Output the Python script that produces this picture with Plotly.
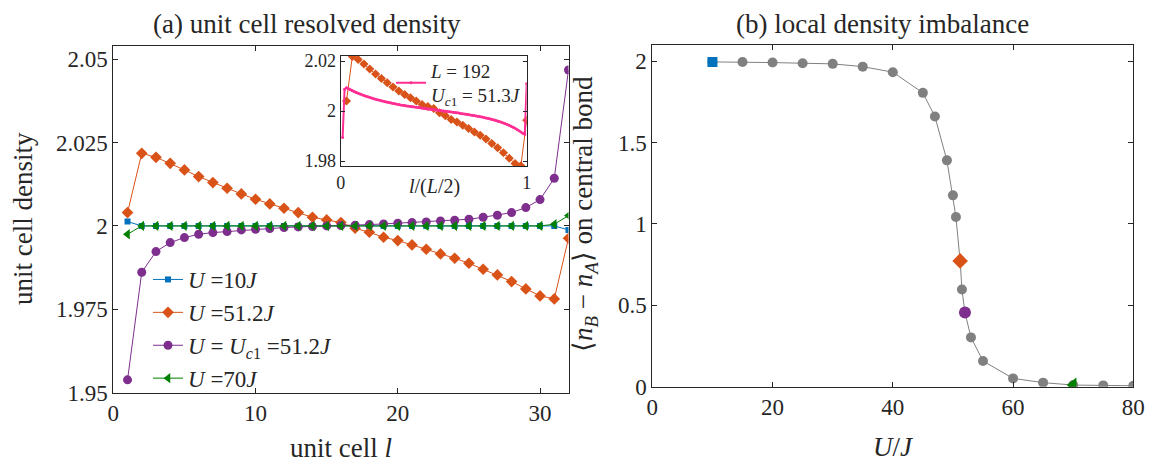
import plotly.graph_objects as go

# ---------------- data ----------------
cells = list(range(1, 33))  # unit cell index l, L = 64 chain (32 cells)

dens_U10 = [2.0013] + [2.0000] * 30 + [1.9988]
dens_U512 = [2.0040, 2.0218, 2.0206, 2.0188, 2.0168, 2.0148, 2.0130, 2.0113,
             2.0096, 2.0080, 2.0066, 2.0053, 2.0040, 2.0026, 2.0018, 2.0010,
             1.9993, 1.9981, 1.9966, 1.9956, 1.9943, 1.9930, 1.9916, 1.9903,
             1.9888, 1.9870, 1.9853, 1.9833, 1.9811, 1.9790, 1.9781, 1.9963]
dens_Uc1 = [1.9538, 1.9861, 1.9923, 1.9950, 1.9965, 1.9975, 1.9980, 1.9983,
            1.9988, 1.9990, 1.9992, 1.9995, 1.9997, 1.9998, 2.0000, 2.0001,
            2.0002, 2.0004, 2.0006, 2.0008, 2.0010, 2.0012, 2.0015, 2.0017,
            2.0020, 2.0026, 2.0032, 2.0040, 2.0055, 2.0079, 2.0143, 2.0468]
dens_U70 = [1.9975] + [2.0000] * 29 + [2.0005, 2.0031]

# L = 192 chain (96 cells) at U_c1 = 51.3 J
dens_L192 = [1.9894, 2.0087, 2.0093, 2.0089, 2.0085, 2.0081, 2.0077, 2.0074,
             2.0071, 2.0068, 2.0065, 2.0062, 2.0059, 2.0057, 2.0054, 2.0052,
             2.0049, 2.0047, 2.0045, 2.0043, 2.0041, 2.0039, 2.0037, 2.0035,
             2.0034, 2.0032, 2.0030, 2.0029, 2.0027, 2.0026, 2.0024, 2.0023,
             2.0022, 2.0020, 2.0019, 2.0018, 2.0017, 2.0016, 2.0015, 2.0014,
             2.0013, 2.0011, 2.0010, 2.0009, 2.0008, 2.0007, 2.0006, 2.0005,
             2.0004, 2.0003, 2.0002, 2.0001, 2.0000, 1.9999, 1.9998, 1.9997,
             1.9996, 1.9995, 1.9994, 1.9993, 1.9992, 1.9990, 1.9989, 1.9988,
             1.9987, 1.9986, 1.9984, 1.9983, 1.9982, 1.9980, 1.9979, 1.9977,
             1.9976, 1.9974, 1.9972, 1.9971, 1.9969, 1.9967, 1.9965, 1.9963,
             1.9960, 1.9958, 1.9955, 1.9952, 1.9949, 1.9946, 1.9943, 1.9939,
             1.9935, 1.9931, 1.9926, 1.9921, 1.9916, 1.9911, 1.9907, 2.0110]
cells_L192 = list(range(1, 97))

# central-bond imbalance versus U/J
U_vals = [10, 15, 20, 25, 30, 35, 40, 45, 47, 49, 50, 50.5, 51.2, 51.5, 52,
          53, 55, 60, 65, 70, 75, 80]
imbalance = [1.996, 1.996, 1.992, 1.988, 1.984, 1.967, 1.933, 1.806, 1.661,
             1.391, 1.176, 1.043, 0.773, 0.597, 0.456, 0.303, 0.158, 0.051,
             0.025, 0.010, 0.008, 0.006]
hl_U = {"U10": 10, "U512": 51.2, "Uc1": 52, "U70": 70}
hl_val = {"U10": 1.996, "U512": 0.773, "Uc1": 0.456, "U70": 0.010}

# ---------------- styles ----------------
BLUE = "#0072BD"
ORANGE = "#D95319"
PURPLE = "#7E2F8E"
GREEN = "#008000"
PINK = "#FF2E93"
GRAY = "#808080"
AX = "#262626"
FONT = "Liberation Serif"

W, H = 1162, 465


def px_x(p):
    return p / W


def px_y(p):
    return 1 - p / H


fig = go.Figure()

# ---- panel (a) ----
fig.add_trace(go.Scatter(x=cells, y=dens_U10, mode="lines+markers",
                         name="<i>U</i> =10<i>J</i>",
                         line=dict(color=BLUE, width=1),
                         marker=dict(symbol="square", size=6, color=BLUE),
                         xaxis="x", yaxis="y"))
fig.add_trace(go.Scatter(x=cells, y=dens_U512, mode="lines+markers",
                         name="<i>U</i> =51.2<i>J</i>",
                         line=dict(color=ORANGE, width=1),
                         marker=dict(symbol="diamond", size=9, color=ORANGE),
                         xaxis="x", yaxis="y"))
fig.add_trace(go.Scatter(x=cells, y=dens_Uc1, mode="lines+markers",
                         name="<i>U</i> = <i>U</i><sub><i>c</i>1</sub> =51.2<i>J</i>",
                         line=dict(color=PURPLE, width=1),
                         marker=dict(symbol="circle", size=9, color=PURPLE),
                         xaxis="x", yaxis="y"))
fig.add_trace(go.Scatter(x=cells, y=dens_U70, mode="lines+markers",
                         name="<i>U</i> =70<i>J</i>",
                         line=dict(color=GREEN, width=1),
                         marker=dict(symbol="triangle-left", size=9, color=GREEN),
                         xaxis="x", yaxis="y"))

# ---- inset: density versus l/(L/2) ----
fig.add_trace(go.Scatter(x=[c / 32 for c in cells], y=dens_U512,
                         mode="lines+markers", showlegend=False,
                         line=dict(color=ORANGE, width=1),
                         marker=dict(symbol="diamond", size=7, color=ORANGE),
                         xaxis="x3", yaxis="y3"))
fig.add_trace(go.Scatter(x=[c / 96 for c in cells_L192], y=dens_L192,
                         mode="lines+markers",
                         name="<i>L</i> = 192<br><i>U</i><sub><i>c</i>1</sub> = 51.3<i>J</i>",
                         legend="legend2",
                         line=dict(color=PINK, width=2),
                         marker=dict(symbol="circle", size=3, color=PINK),
                         xaxis="x3", yaxis="y3"))

# ---- panel (b) ----
fig.add_trace(go.Scatter(x=U_vals, y=imbalance, mode="lines+markers",
                         showlegend=False,
                         line=dict(color=GRAY, width=1),
                         marker=dict(symbol="circle", size=10, color=GRAY),
                         xaxis="x2", yaxis="y2"))
fig.add_trace(go.Scatter(x=[hl_U["U10"]], y=[hl_val["U10"]], mode="markers",
                         showlegend=False,
                         marker=dict(symbol="square", size=10, color=BLUE),
                         xaxis="x2", yaxis="y2"))
fig.add_trace(go.Scatter(x=[hl_U["U512"]], y=[hl_val["U512"]], mode="markers",
                         showlegend=False,
                         marker=dict(symbol="diamond", size=12, color=ORANGE),
                         xaxis="x2", yaxis="y2"))
fig.add_trace(go.Scatter(x=[hl_U["Uc1"]], y=[hl_val["Uc1"]], mode="markers",
                         showlegend=False,
                         marker=dict(symbol="circle", size=12, color=PURPLE),
                         xaxis="x2", yaxis="y2"))
fig.add_trace(go.Scatter(x=[hl_U["U70"]], y=[hl_val["U70"]], mode="markers",
                         showlegend=False,
                         marker=dict(symbol="triangle-left", size=13, color=GREEN),
                         xaxis="x2", yaxis="y2"))

axis_common = dict(showline=True, linecolor=AX, linewidth=1, mirror="ticks",
                   ticks="inside", ticklen=5, tickcolor=AX, showgrid=False,
                   zeroline=False, automargin=False,
                   tickfont=dict(family=FONT, size=23, color="#262626"))
inset_axis = {**axis_common, "ticklen": 4,
              "tickfont": dict(family=FONT, size=18, color="#262626")}

fig.update_layout(
    width=W, height=H,
    margin=dict(l=0, r=0, t=0, b=0, pad=0),
    paper_bgcolor="white", plot_bgcolor="white",
    font=dict(family=FONT, color="#262626"),
    xaxis=dict(domain=[px_x(113.3), px_x(568.5)], range=[0, 32],
               tickvals=[0, 10, 20, 30], anchor="y", **axis_common),
    yaxis=dict(domain=[px_y(392.5), px_y(46)], range=[1.95, 2.054],
               tickvals=[1.95, 1.975, 2, 2.025, 2.05],
               ticktext=["1.95", "1.975", "2", "2.025", "2.05"],
               anchor="x", **axis_common),
    xaxis2=dict(domain=[px_x(652.3), px_x(1133.3)], range=[0, 80],
                tickvals=[0, 20, 40, 60, 80], anchor="y2", **axis_common),
    yaxis2=dict(domain=[px_y(386.7), px_y(45)], range=[0, 2.1],
                tickvals=[0, 0.5, 1, 1.5, 2],
                ticktext=["0", "0.5", "1", "1.5", "2"],
                anchor="x2", **axis_common),
    xaxis3=dict(domain=[px_x(340.7), px_x(526.7)], range=[0, 1],
                tickvals=[0, 1], anchor="y3", **inset_axis),
    yaxis3=dict(domain=[px_y(166), px_y(56)], range=[1.978, 2.022],
                tickvals=[1.98, 2, 2.02], ticktext=["1.98", "2", "2.02"],
                anchor="x3", **inset_axis),
    legend=dict(x=px_x(148), y=px_y(258), xanchor="left", yanchor="top",
                bgcolor="rgba(0,0,0,0)", borderwidth=0,
                font=dict(family=FONT, size=23, color="#262626"),
                tracegroupgap=0, itemwidth=30),
    legend2=dict(x=px_x(391), y=px_y(83), xanchor="left", yanchor="middle",
                 bgcolor="rgba(0,0,0,0)", borderwidth=0,
                 font=dict(family=FONT, size=19, color="#262626"),
                 itemwidth=30),
)

ann = dict(showarrow=False, xref="paper", yref="paper",
           xanchor="center", yanchor="middle",
           font=dict(family=FONT, size=27, color="#262626"))
fig.add_annotation(x=px_x(307), y=px_y(24), text="(a) unit cell resolved density", **ann)
fig.add_annotation(x=px_x(882), y=px_y(24), text="(b) local density imbalance", **ann)
fig.add_annotation(x=px_x(341), y=px_y(448), text="unit cell <i>l</i>", **ann)
fig.add_annotation(x=px_x(893), y=px_y(447), text="<i>U</i>/<i>J</i>", **ann)
fig.add_annotation(x=px_x(23), y=px_y(219), text="unit cell density", textangle=-90, **ann)
fig.add_annotation(x=px_x(585), y=px_y(214),
                   text="⟨<i>n</i><sub><i>B</i></sub> − <i>n</i><sub><i>A</i></sub>⟩ on central bond",
                   textangle=-90, **ann)
fig.add_annotation(x=px_x(434), y=px_y(186), text="<i>l</i>/(<i>L</i>/2)",
                   showarrow=False, xref="paper", yref="paper",
                   xanchor="center", yanchor="middle",
                   font=dict(family=FONT, size=20, color="#262626"))

fig.write_html("out.html")
